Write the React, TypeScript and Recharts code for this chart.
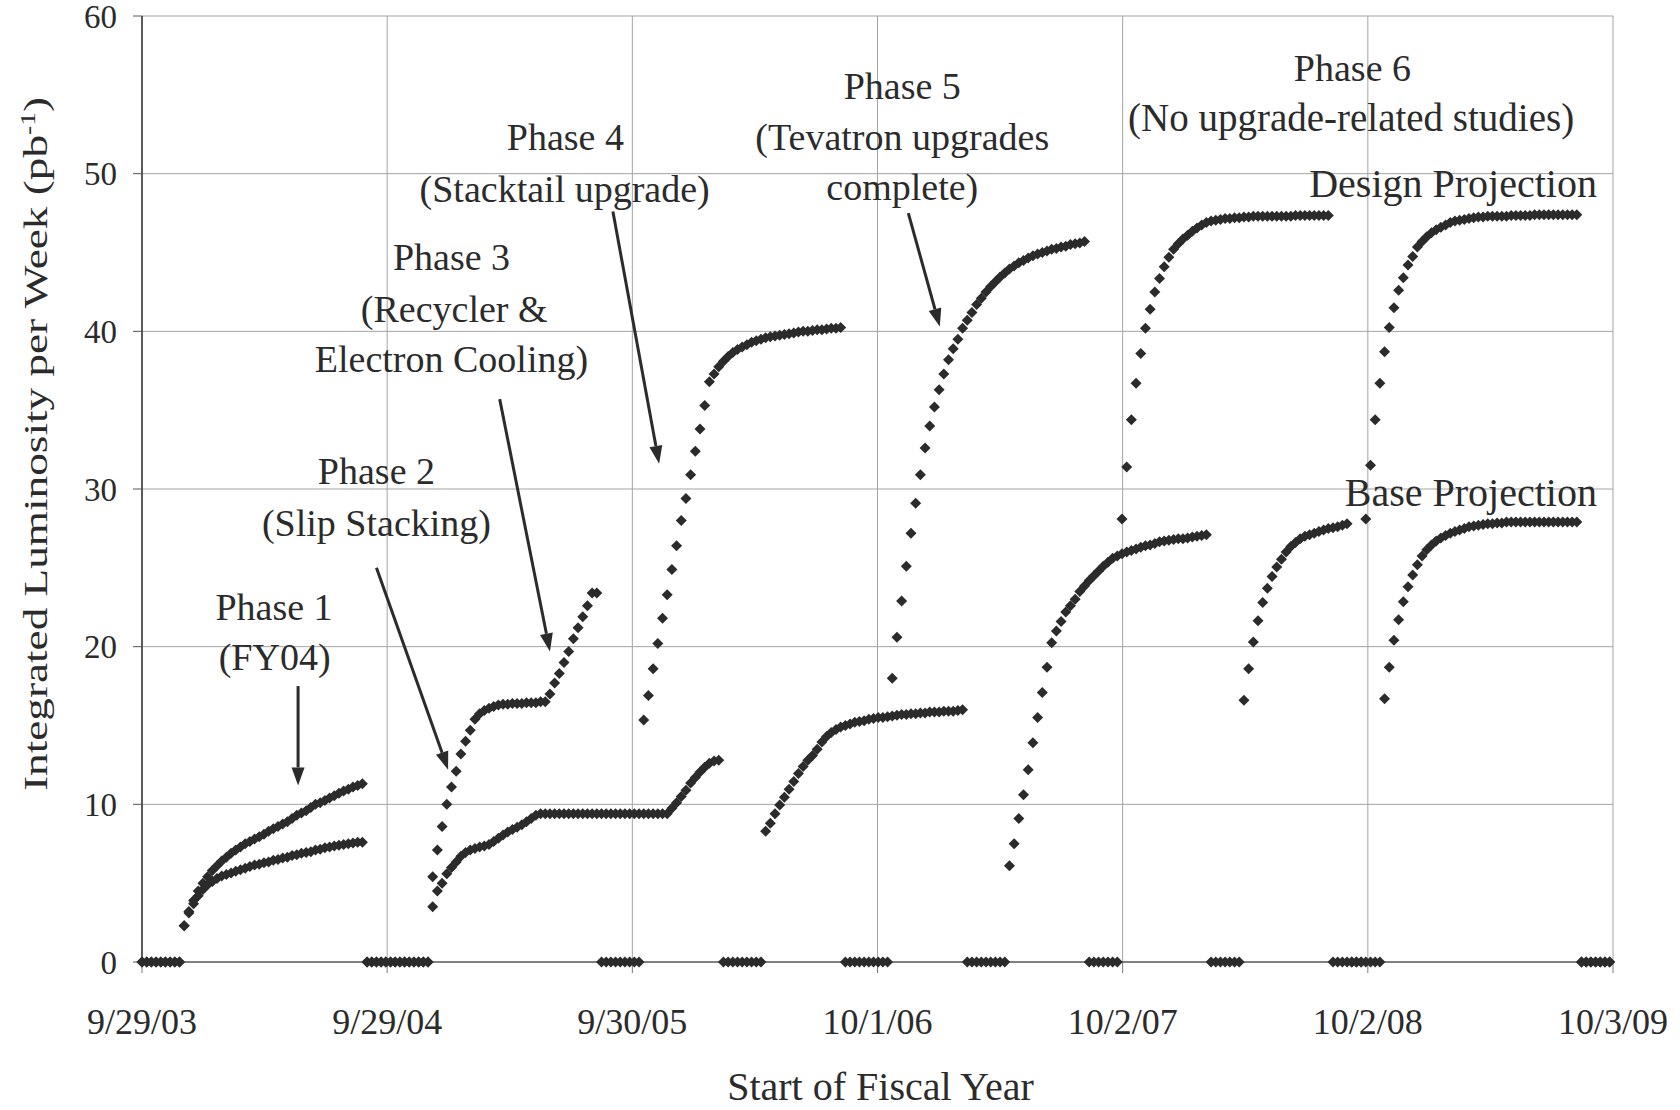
import React from 'react';
import { ScatterChart, Scatter, XAxis, YAxis, CartesianGrid, ReferenceLine, ReferenceDot } from 'recharts';

const FONT = '"Liberation Serif", "Times New Roman", serif';
const INK = '#2b2b2b';
const GRID = '#a3a3a3';

// x axis is days since 9/29/03; Excel put a major tick every 366 days
const tickDays = [0, 366, 732, 1098, 1464, 1830, 2196];
const tickLabels = ['9/29/03', '9/29/04', '9/30/05', '10/1/06', '10/2/07', '10/2/08', '10/3/09'];
const yTicks = [0, 10, 20, 30, 40, 50, 60];

// weekly values (pb^-1 per week), one entry per week starting 9/29/03
// Design projection
const design03 = [0, 0, 0, 0, 0, 0, 0, 0, 0,
  2.3, 3.2, 3.9, 4.5, 5.0, 5.4, 5.8, 6.1, 6.4, 6.65, 6.9, 7.1, 7.3, 7.5, 7.65, 7.8, 7.95, 8.1, 8.3, 8.45,
  8.6, 8.75, 8.9, 9.1, 9.3, 9.45, 9.6, 9.8, 10.0, 10.1, 10.25, 10.4, 10.55, 10.7, 10.85, 10.95, 11.1, 11.2, 11.3];
const design04 = [0, 0, 0, 0, 0, 0, 0, 0, 0, 0, 0, 0, 0, 0,
  5.4, 7.1, 8.6, 10.0, 11.1, 12.1, 13.2, 14.0, 14.7, 15.4, 15.75, 15.95, 16.1, 16.2, 16.3, 16.35, 16.35, 16.4,
  16.4, 16.4, 16.45, 16.45, 16.45, 16.5, 16.5, 17.0, 17.7, 18.3, 19.0, 19.7, 20.5, 21.2, 21.9, 22.6, 23.4, 23.4];
const design05 = [0, 0, 0, 0, 0, 0, 0, 0, 0,
  15.35, 16.9, 18.6, 20.2, 21.8, 23.3, 24.9, 26.4, 28.0, 29.4, 30.9, 32.4, 33.8, 35.3, 36.8,
  37.3, 37.75, 38.1, 38.4, 38.65, 38.85, 39.0, 39.15, 39.3, 39.4, 39.5, 39.6, 39.65, 39.7, 39.75, 39.8, 39.85,
  39.9, 39.95, 40.0, 40.0, 40.05, 40.1, 40.1, 40.15, 40.2, 40.2, 40.25];
const design06 = [0, 0, 0, 0, 0, 0, 0, 0, 0, 0,
  18.0, 20.6, 22.9, 25.1, 27.2, 29.1, 30.9, 32.6, 34.0, 35.2, 36.3, 37.3, 38.2, 38.9, 39.5, 40.2, 40.7, 41.2,
  41.7, 42.1, 42.5, 42.85, 43.15, 43.45, 43.7, 43.95, 44.15, 44.35, 44.5, 44.65, 44.8, 44.9, 45.0, 45.1, 45.2,
  45.25, 45.35, 45.4, 45.5, 45.55, 45.6, 45.7];
const design07 = [0, 0, 0, 0, 0, 0, 0,
  28.1, 31.4, 34.4, 36.7, 38.6, 40.2, 41.4, 42.5, 43.35, 44.1, 44.7, 45.2, 45.55, 45.85, 46.1, 46.35, 46.55,
  46.75, 46.9, 47.0, 47.05, 47.1, 47.15, 47.15, 47.2, 47.2, 47.25, 47.25, 47.3, 47.3, 47.3, 47.3, 47.3, 47.3,
  47.3, 47.3, 47.3, 47.35, 47.35, 47.35, 47.35, 47.35, 47.35, 47.35, 47.35];
const design08 = [0, 0, 0, 0, 0, 0, 0,
  28.1, 31.5, 34.4, 36.7, 38.7, 40.25, 41.5, 42.6, 43.4, 44.2, 44.75, 45.35, 45.7, 46.0, 46.25, 46.45, 46.6,
  46.75, 46.9, 47.0, 47.05, 47.1, 47.15, 47.2, 47.25, 47.25, 47.3, 47.3, 47.3, 47.3, 47.3, 47.35, 47.35, 47.35,
  47.35, 47.35, 47.4, 47.4, 47.4, 47.4, 47.4, 47.4, 47.4, 47.4, 47.4, 47.4];
const design09 = [0, 0, 0, 0, 0, 0, 0];

// Base projection
const base03 = [0, 0, 0, 0, 0, 0, 0, 0, 0,
  2.3, 3.1, 3.7, 4.2, 4.6, 4.9, 5.1, 5.3, 5.45, 5.55, 5.65, 5.75, 5.85, 5.95, 6.05, 6.15, 6.2, 6.3, 6.35, 6.45,
  6.5, 6.6, 6.65, 6.75, 6.8, 6.9, 6.95, 7.0, 7.1, 7.15, 7.25, 7.3, 7.35, 7.4, 7.45, 7.5, 7.55, 7.6, 7.6];
const base04 = [0, 0, 0, 0, 0, 0, 0, 0, 0, 0, 0, 0, 0, 0,
  3.5, 4.5, 5.0, 5.6, 6.0, 6.35, 6.7, 6.95, 7.1, 7.2, 7.3, 7.35, 7.45, 7.65, 7.85, 8.05, 8.25, 8.4, 8.55, 8.7,
  8.9, 9.1, 9.3, 9.4, 9.4, 9.4, 9.4, 9.4, 9.4, 9.4, 9.4, 9.4, 9.4, 9.4, 9.4, 9.4, 9.4, 9.4, 9.4, 9.4, 9.4, 9.4,
  9.4, 9.4, 9.4, 9.4, 9.4, 9.4, 9.4, 9.4, 9.4,
  9.75, 10.1, 10.5, 10.9, 11.35, 11.7, 12.05, 12.35, 12.6, 12.75, 12.8];
const base05 = [0, 0, 0, 0, 0, 0, 0, 0, 0,
  8.3, 8.8, 9.4, 9.95, 10.45, 10.95, 11.45, 11.95, 12.4, 12.8, 13.1, 13.5, 13.95, 14.3, 14.55, 14.75, 14.9,
  15.0, 15.1, 15.2, 15.25, 15.3, 15.4, 15.45, 15.5, 15.5, 15.55, 15.6, 15.65, 15.7, 15.7, 15.75, 15.75, 15.8,
  15.8, 15.85, 15.85, 15.85, 15.9, 15.9, 15.9, 15.95, 16.0];
const base06 = [0, 0, 0, 0, 0, 0, 0, 0, 0,
  6.1, 7.5, 9.1, 10.6, 12.2, 13.9, 15.5, 17.1, 18.7, 20.25, 21.0, 21.6, 22.2, 22.6, 23.0, 23.5, 23.85, 24.2,
  24.5, 24.8, 25.1, 25.35, 25.6, 25.75, 25.9, 26.0, 26.1, 26.2, 26.3, 26.4, 26.45, 26.55, 26.65, 26.7, 26.75,
  26.8, 26.85, 26.85, 26.9, 26.95, 27.0, 27.05, 27.1];
const base07 = [0, 0, 0, 0, 0, 0, 0,
  16.6, 18.6, 20.3, 21.65, 22.8, 23.7, 24.45, 25.05, 25.55, 26.0, 26.35, 26.6, 26.85, 27.0, 27.1, 27.2, 27.3,
  27.4, 27.5, 27.55, 27.6, 27.7, 27.8];
const base08 = [0, 0, 0, 0, 0, 0, 0,
  16.7, 18.7, 20.4, 21.7, 22.85, 23.8, 24.55, 25.2, 25.75, 26.15, 26.45, 26.7, 26.9, 27.05, 27.2, 27.3, 27.4,
  27.5, 27.6, 27.65, 27.7, 27.75, 27.8, 27.8, 27.85, 27.85, 27.9, 27.9, 27.9, 27.9, 27.9, 27.9, 27.9, 27.9,
  27.9, 27.9, 27.9, 27.9, 27.9, 27.9, 27.9, 27.9];
const base09 = [0, 0, 0, 0, 0, 0, 0];

const designWeekly = [...design03, ...design04, ...design05, ...design06, ...design07, ...design08, ...design09];
const baseWeekly = [...base03, ...base04, ...base05, ...base06, ...base07, ...base08, ...base09];

// annotation arrows: [from, to] in (day, value)
const arrowSegments = [
  [[233, 17.5], [233, 11.2]],
  [[350, 25.0], [457, 12.2]],
  [[534, 35.7], [609, 19.7]],
  [[703, 47.6], [772, 31.6]],
  [[1144, 47.5], [1191, 40.3]],
];

// annotation text lines: text, day, value (baseline), anchor, font size
const noteLines: [string, number, number, 'middle' | 'end', number][] = [
  ['Phase 1', 197, 21.7, 'middle', 38],
  ['(FY04)', 198, 18.5, 'middle', 38],
  ['Phase 2', 350, 30.3, 'middle', 38],
  ['(Slip Stacking)', 350, 27.0, 'middle', 38],
  ['Phase 3', 462, 43.9, 'middle', 38],
  ['(Recycler &', 466, 40.6, 'middle', 38],
  ['Electron Cooling)', 462, 37.4, 'middle', 38],
  ['Phase 4', 632, 51.5, 'middle', 38],
  ['(Stacktail upgrade)', 631, 48.2, 'middle', 38],
  ['Phase 5', 1135, 54.75, 'middle', 38],
  ['(Tevatron upgrades', 1135, 51.5, 'middle', 38],
  ['complete)', 1135, 48.3, 'middle', 38],
  ['Phase 6', 1807, 55.9, 'middle', 38],
  ['(No upgrade-related studies)', 1805, 52.7, 'middle', 39],
  ['Design Projection', 2172, 48.5, 'end', 40],
  ['Base Projection', 2172, 28.9, 'end', 40],
];

const designData = designWeekly.map((v, i) => ({ day: i * 7, lum: v }));
const baseData = baseWeekly.map((v, i) => ({ day: i * 7, lum: v }));

const Diamond = (props: any) => {
  const { cx, cy } = props;
  if (cx == null || cy == null) return null;
  const r = 5.5;
  return <path d={`M${cx},${cy - r}L${cx + r},${cy}L${cx},${cy + r}L${cx - r},${cy}Z`} fill={INK} />;
};

const Arrow = (props: any) => {
  const { x1, y1, x2, y2 } = props;
  if (x1 == null) return null;
  const ang = Math.atan2(y2 - y1, x2 - x1);
  const len = 18;
  const half = 6.5;
  const bx = x2 - len * Math.cos(ang);
  const by = y2 - len * Math.sin(ang);
  const px = -Math.sin(ang) * half;
  const py = Math.cos(ang) * half;
  return (
    <g>
      <line x1={x1} y1={y1} x2={bx} y2={by} stroke={INK} strokeWidth={3} />
      <polygon points={`${x2},${y2} ${bx + px},${by + py} ${bx - px},${by - py}`} fill={INK} />
    </g>
  );
};

const noteShape = (text: string, anchor: 'middle' | 'end', size: number) => (props: any) => (
  <text x={props.cx} y={props.cy} textAnchor={anchor} fontFamily={FONT} fontSize={size} fill={INK}>
    {text}
  </text>
);

const YTitle = (props: any) => {
  const vb = props.viewBox || { x: 0, y: 16, width: 142, height: 946 };
  const x = vb.x + 47;
  const y = vb.y + 428;
  return (
    <text
      x={x}
      y={y}
      transform={`rotate(-90, ${x}, ${y})`}
      textAnchor="middle"
      fontFamily={FONT}
      fontSize={33}
      fill={INK}
      textLength={694}
      lengthAdjust="spacingAndGlyphs"
    >
      Integrated Luminosity per Week (pb<tspan dy={-12} fontSize={20}>-1</tspan>
      <tspan dy={12}>)</tspan>
    </text>
  );
};

const XTitle = (props: any) => {
  const vb = props.viewBox || { x: 142, y: 962, width: 1470, height: 148 };
  return (
    <text x={vb.x + vb.width / 2 + 3} y={vb.y + 138} textAnchor="middle" fontFamily={FONT} fontSize={40} fill={INK}>
      Start of Fiscal Year
    </text>
  );
};

export default function App() {
  return (
    <div style={{ position: 'absolute', left: 0, top: 0, width: 1680, height: 1110, background: '#fff' }}>
      <ScatterChart width={1680} height={1110} margin={{ top: 16, right: 67, bottom: 0, left: 0 }}>
        <CartesianGrid stroke={GRID} strokeWidth={1} />
        <XAxis
          dataKey="day"
          type="number"
          domain={[0, 2196]}
          ticks={tickDays}
          interval={0}
          tickFormatter={(d: number) => tickLabels[tickDays.indexOf(d)]}
          height={148}
          tickSize={11}
          tickMargin={35}
          tick={{ fontSize: 36, fill: INK, fontFamily: FONT }}
          axisLine={{ stroke: '#666', strokeWidth: 1.5 }}
          tickLine={{ stroke: '#777' }}
          label={{ content: XTitle }}
        />
        <YAxis
          dataKey="lum"
          type="number"
          domain={[0, 60]}
          ticks={yTicks}
          interval={0}
          width={142}
          tickSize={9}
          tickMargin={16}
          tick={{ fontSize: 33, fill: INK, fontFamily: FONT }}
          axisLine={{ stroke: '#333', strokeWidth: 1.5 }}
          tickLine={{ stroke: '#555' }}
          label={{ content: YTitle }}
        />
        <Scatter name="Design Projection" data={designData} shape={Diamond} isAnimationActive={false} />
        <Scatter name="Base Projection" data={baseData} shape={Diamond} isAnimationActive={false} />
        {arrowSegments.map((seg, i) => (
          <ReferenceLine
            key={`arrow-${i}`}
            segment={[{ x: seg[0][0], y: seg[0][1] }, { x: seg[1][0], y: seg[1][1] }]}
            shape={Arrow}
            ifOverflow="visible"
          />
        ))}
        {noteLines.map(([text, day, value, anchor, size], i) => (
          <ReferenceDot
            key={`note-${i}`}
            x={day}
            y={value}
            r={0}
            ifOverflow="visible"
            shape={noteShape(text, anchor, size)}
          />
        ))}
      </ScatterChart>
    </div>
  );
}
